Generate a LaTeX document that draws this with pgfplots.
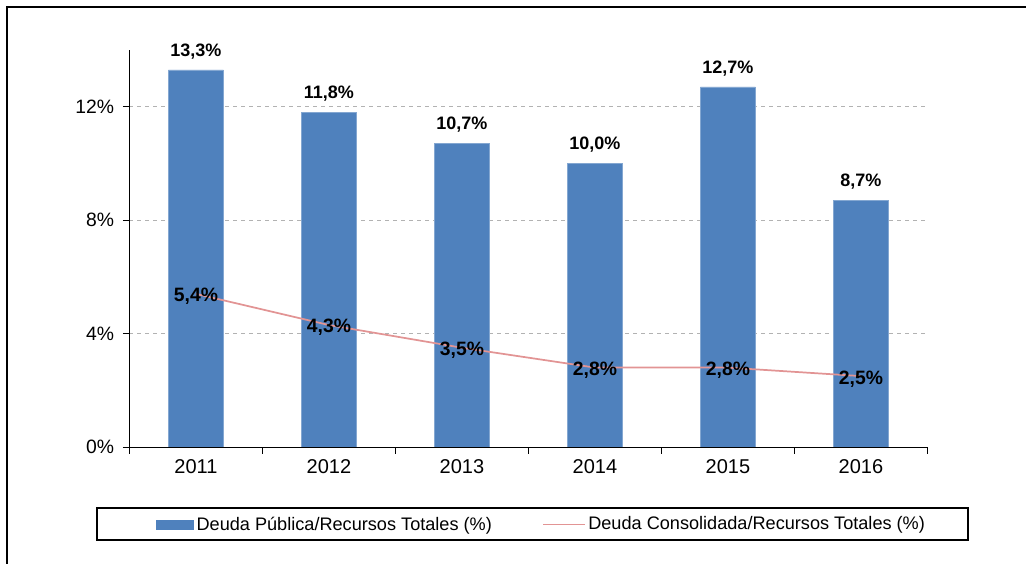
\documentclass[border=0pt]{standalone}
\usepackage{pgfplots}
\pgfplotsset{compat=1.18}
\usepackage{fontspec}
\setmainfont{Liberation Sans}
\definecolor{barblue}{RGB}{79,129,189}
\definecolor{linepink}{RGB}{226,148,148}
\begin{document}
\begin{tikzpicture}
  % 1 px of the reference = 0.75pt
  \path[use as bounding box] (0pt,0pt) rectangle (769.5pt,423pt);
  % outer frame (only top and left edges visible)
  \draw[line width=1.4pt] (5.25pt,0pt) -- (5.25pt,417.75pt) -- (769.5pt,417.75pt);
  \begin{axis}[
      at={(97.1pt,87.75pt)}, anchor=south west,
      scale only axis,
      width=598.5pt, height=297.75pt,
      xmin=-0.5, xmax=5.5,
      ymin=0, ymax=14,
      axis lines=left,
      axis line style={-, black, line width=0.6pt},
      xtick={0,...,5},
      xticklabels={2011,2012,2013,2014,2015,2016},
      minor xtick={-0.5,0.5,...,5.5},
      major x tick style={draw=none},
      minor tick length=5pt,
      ytick={0,4,8,12},
      tick align=outside,
      major tick length=5pt,
      tick style={black, line width=0.6pt},
      yticklabel={\pgfmathprintnumber{\tick}\%},
      /pgf/number format/assume math mode=true,
      xticklabel style={font=\fontsize{15}{17}\selectfont, yshift=-1pt},
      yticklabel style={font=\fontsize{14.5}{16}\selectfont, xshift=-3pt},
      ymajorgrids=true,
      grid style={gray!60, dashed, line width=0.5pt},
      legend columns=2,
      legend style={draw=none, fill=none, at={(0.028,-0.195)}, anchor=west,
        font=\fontsize{13.6}{15}\selectfont,
        /tikz/every even column/.append style={column sep=36pt}},
      legend cell align=left,
    ]
    \addplot[ybar, bar width=41.25pt, fill=barblue, draw=barblue!70!white, line width=0.4pt,
      nodes near coords={\pgfmathprintnumber[use comma,fixed,fixed zerofill,precision=1]{\pgfplotspointmeta}\%},
      every node near coord/.append style={font=\bfseries\fontsize{13.5}{15}\selectfont, anchor=south, inner sep=0pt, yshift=8pt, black},
      legend image code/.code={\fill[barblue] (0pt,-3.3pt) rectangle (28pt,3.3pt);}]
      coordinates {(0,13.3) (1,11.8) (2,10.7) (3,10.0) (4,12.7) (5,8.7)};
    \addlegendentry{Deuda Pública/Recursos Totales (\%)}
    \addplot[sharp plot, color=linepink, line width=1.3pt, mark=none,
      nodes near coords={\pgfmathprintnumber[use comma,fixed,fixed zerofill,precision=1]{\pgfplotspointmeta}\%},
      every node near coord/.append style={font=\bfseries\fontsize{14.5}{16}\selectfont, anchor=center, inner sep=0pt, yshift=-2pt, black},
      legend image code/.code={\draw[linepink, line width=1.3pt] (0pt,0pt) -- (31pt,0pt);}]
      coordinates {(0,5.4) (1,4.3) (2,3.5) (3,2.8) (4,2.8) (5,2.5)};
    \addlegendentry{Deuda Consolidada/Recursos Totales (\%)}
  \end{axis}
  % legend box
  \draw[line width=0.8pt] (72.75pt,42pt) rectangle (726pt,18pt);
\end{tikzpicture}
\end{document}
